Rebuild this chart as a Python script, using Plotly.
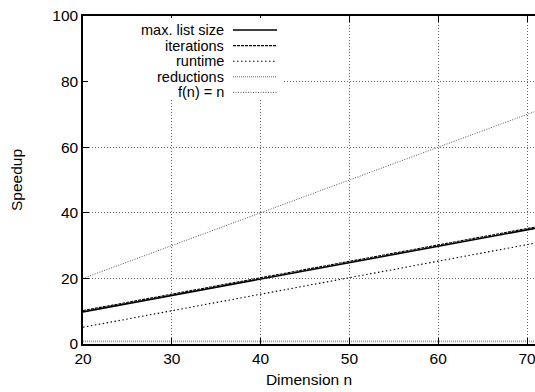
import plotly.graph_objects as go

# ---- data ----
n_vals = [20, 25, 30, 35, 40, 45, 50, 55, 60, 65, 70, 72]
max_list_size = [9.8, 12.3, 14.8, 17.3, 19.7, 22.3, 24.8, 27.3, 29.8, 32.3, 34.8, 35.8]
iterations = [10.2, 12.7, 15.2, 17.7, 20.1, 22.7, 25.2, 27.7, 30.2, 32.7, 35.2, 36.2]
runtime = [5.1, 7.6, 10.1, 12.6, 15.1, 17.6, 20.1, 22.6, 25.1, 27.7, 30.3, 31.3]
reductions = [0.8, 0.8, 0.8, 0.8, 0.8, 0.8, 0.8, 0.8, 0.8, 0.8, 0.8, 0.8]
f_n = [20, 25, 30, 35, 40, 45, 50, 55, 60, 65, 70, 72]

x_ticks = [20, 30, 40, 50, 60, 70]
y_ticks = [0, 20, 40, 60, 80, 100]

series = [
    ("max. list size", max_list_size, dict(color="black", width=1.6, dash="solid")),
    ("iterations", iterations, dict(color="black", width=1.1, dash="3px,1px")),
    ("runtime", runtime, dict(color="black", width=1.1, dash="1.5px,2.5px")),
    ("reductions", reductions, dict(color="#999999", width=1.6, dash="1px,1px")),
    ("f(n) = n", f_n, dict(color="#555555", width=1, dash="1px,1.5px")),
]

FONT = "Liberation Sans, Arial, sans-serif"
FS = 15.5
LEG_FS = 14.5

fig = go.Figure()
for name, ys, ln in series:
    fig.add_trace(go.Scatter(x=n_vals, y=ys, mode="lines", name=name, line=ln,
                             showlegend=False, cliponaxis=True))

W, H = 535, 392
L, R, T, B = 83, 0, 16, 48

shapes = []
annotations = []
px2x = lambda px: (px - L) / (W - L - R)
py2y = lambda py: 1 - (py - T) / (H - T - B)
# opaque legend box
shapes.append(dict(type="rect", xref="paper", yref="paper",
                   x0=px2x(88), x1=px2x(284), y0=py2y(99), y1=py2y(18),
                   fillcolor="white", line=dict(width=0), layer="above"))
row_y = [30, 45.6, 61.2, 76.8, 92.4]
for (name, ys, ln), py in zip(series, row_y):
    annotations.append(dict(text=name, xref="paper", yref="paper",
                            x=px2x(225), y=py2y(py), xanchor="right", yanchor="middle",
                            showarrow=False, borderpad=0,
                            font=dict(size=LEG_FS, color="black", family=FONT)))
    shapes.append(dict(type="line", xref="paper", yref="paper",
                       x0=px2x(233), x1=px2x(277), y0=py2y(py), y1=py2y(py),
                       line=ln, layer="above"))

fig.update_layout(
    width=W, height=H,
    margin=dict(l=L, r=R, t=T, b=B, pad=0),
    paper_bgcolor="white", plot_bgcolor="white",
    font=dict(family=FONT, size=FS, color="black"),
    shapes=shapes, annotations=annotations,
    showlegend=False,
)
fig.update_xaxes(
    range=[20, 70.9], tickvals=x_ticks, ticktext=[str(v) for v in x_ticks],
    showline=True, linecolor="black", linewidth=1.5, mirror="ticks",
    ticks="inside", ticklen=6, tickcolor="black", tickwidth=1,
    showgrid=True, gridcolor="#666666", gridwidth=1, griddash="1px,2px",
    zeroline=False, automargin=False, ticklabeloverflow="allow",
    title=dict(text="Dimension n", font=dict(size=FS), standoff=8),
    tickfont=dict(size=FS),
)
fig.update_yaxes(
    range=[0, 100], tickvals=y_ticks, ticktext=[str(v) for v in y_ticks],
    showline=True, linecolor="black", linewidth=1.5, mirror=False,
    ticks="inside", ticklen=6, tickcolor="black", tickwidth=1,
    showgrid=True, gridcolor="#666666", gridwidth=1, griddash="1px,2px",
    zeroline=False, automargin=False,
    title=dict(text="Speedup", font=dict(size=FS), standoff=26),
    tickfont=dict(size=FS),
)

fig.write_html("out.html")
